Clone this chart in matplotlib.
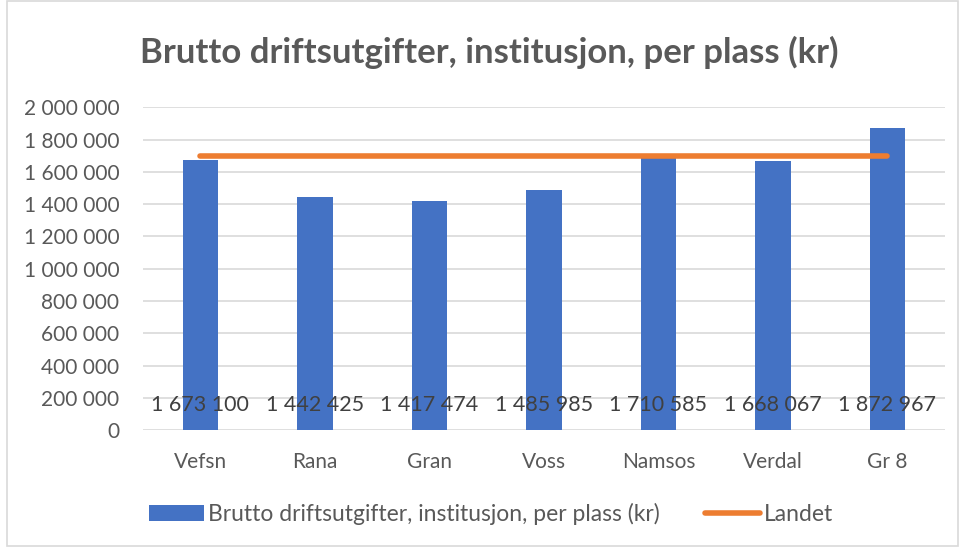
import matplotlib
matplotlib.use("Agg")
import matplotlib.pyplot as plt
import matplotlib.ticker as mticker
from matplotlib.lines import Line2D
from matplotlib.patches import Patch, Rectangle

# ── Data ────────────────────────────────────────────────────────────────────
categories = ["Vefsn", "Rana", "Gran", "Voss", "Namsos", "Verdal", "Gr 8"]
brutto = [1673100, 1442425, 1417474, 1485985, 1710585, 1668067, 1872967]
landet = [1700000] * len(categories)
yticks = list(range(0, 2_000_001, 200_000))

BLUE = "#4472C4"
ORANGE = "#ED7D31"
GREY = "#595959"

plt.rcParams["font.family"] = ["Lato", "DejaVu Sans"]


def space_fmt(v, _=None):
    return f"{int(round(v)):,}".replace(",", " ")


fig = plt.figure(figsize=(9.63, 5.5), dpi=100)
ax = fig.add_axes([0.1485, 0.218, 0.8325, 0.587])

x = range(len(categories))
ax.bar(x, brutto, width=0.31, color=BLUE, zorder=2)
ax.plot(x, landet, color=ORANGE, linewidth=4, solid_capstyle="round", zorder=3)

# data labels sit near the base of each bar
for xi, v in zip(x, brutto):
    ax.text(xi, 155_000, space_fmt(v), ha="center", va="center",
            fontsize=15.5, color="#404040", zorder=4)

ax.set_xlim(-0.5, len(categories) - 0.5)
ax.set_ylim(0, 2_000_000)
ax.set_yticks(yticks)
ax.yaxis.set_major_formatter(mticker.FuncFormatter(space_fmt))
ax.set_xticks(list(x))
ax.set_xticklabels(categories)
ax.tick_params(axis="both", length=0, labelsize=15, colors=GREY)
ax.tick_params(axis="x", pad=16)
ax.tick_params(axis="y", pad=17)
ax.grid(axis="y", color="#D9D9D9", linewidth=1.2, zorder=0)
ax.set_axisbelow(True)
for sp in ax.spines.values():
    sp.set_visible(False)

fig.text(0.508, 0.905, "Brutto driftsutgifter, institusjon, per plass (kr)",
         ha="center", va="center", fontsize=25, fontweight="bold", color=GREY)

handles = [
    Patch(facecolor=BLUE, edgecolor="none"),
    Line2D([0], [0], color=ORANGE, linewidth=4, solid_capstyle="round"),
]
fig.legend(handles, ["Brutto driftsutgifter, institusjon, per plass (kr)", "Landet"],
           loc="center", bbox_to_anchor=(0.51, 0.065), ncol=2, frameon=False,
           fontsize=16.5, labelcolor=GREY, handlelength=2.4, handletextpad=0.15,
           columnspacing=2.0)

# chart border
fig.patches.append(Rectangle((0.007, 0.008), 0.988, 0.99, transform=fig.transFigure,
                             fill=False, edgecolor="#D9D9D9", linewidth=1.2))

fig.savefig("out.png", dpi=100)
